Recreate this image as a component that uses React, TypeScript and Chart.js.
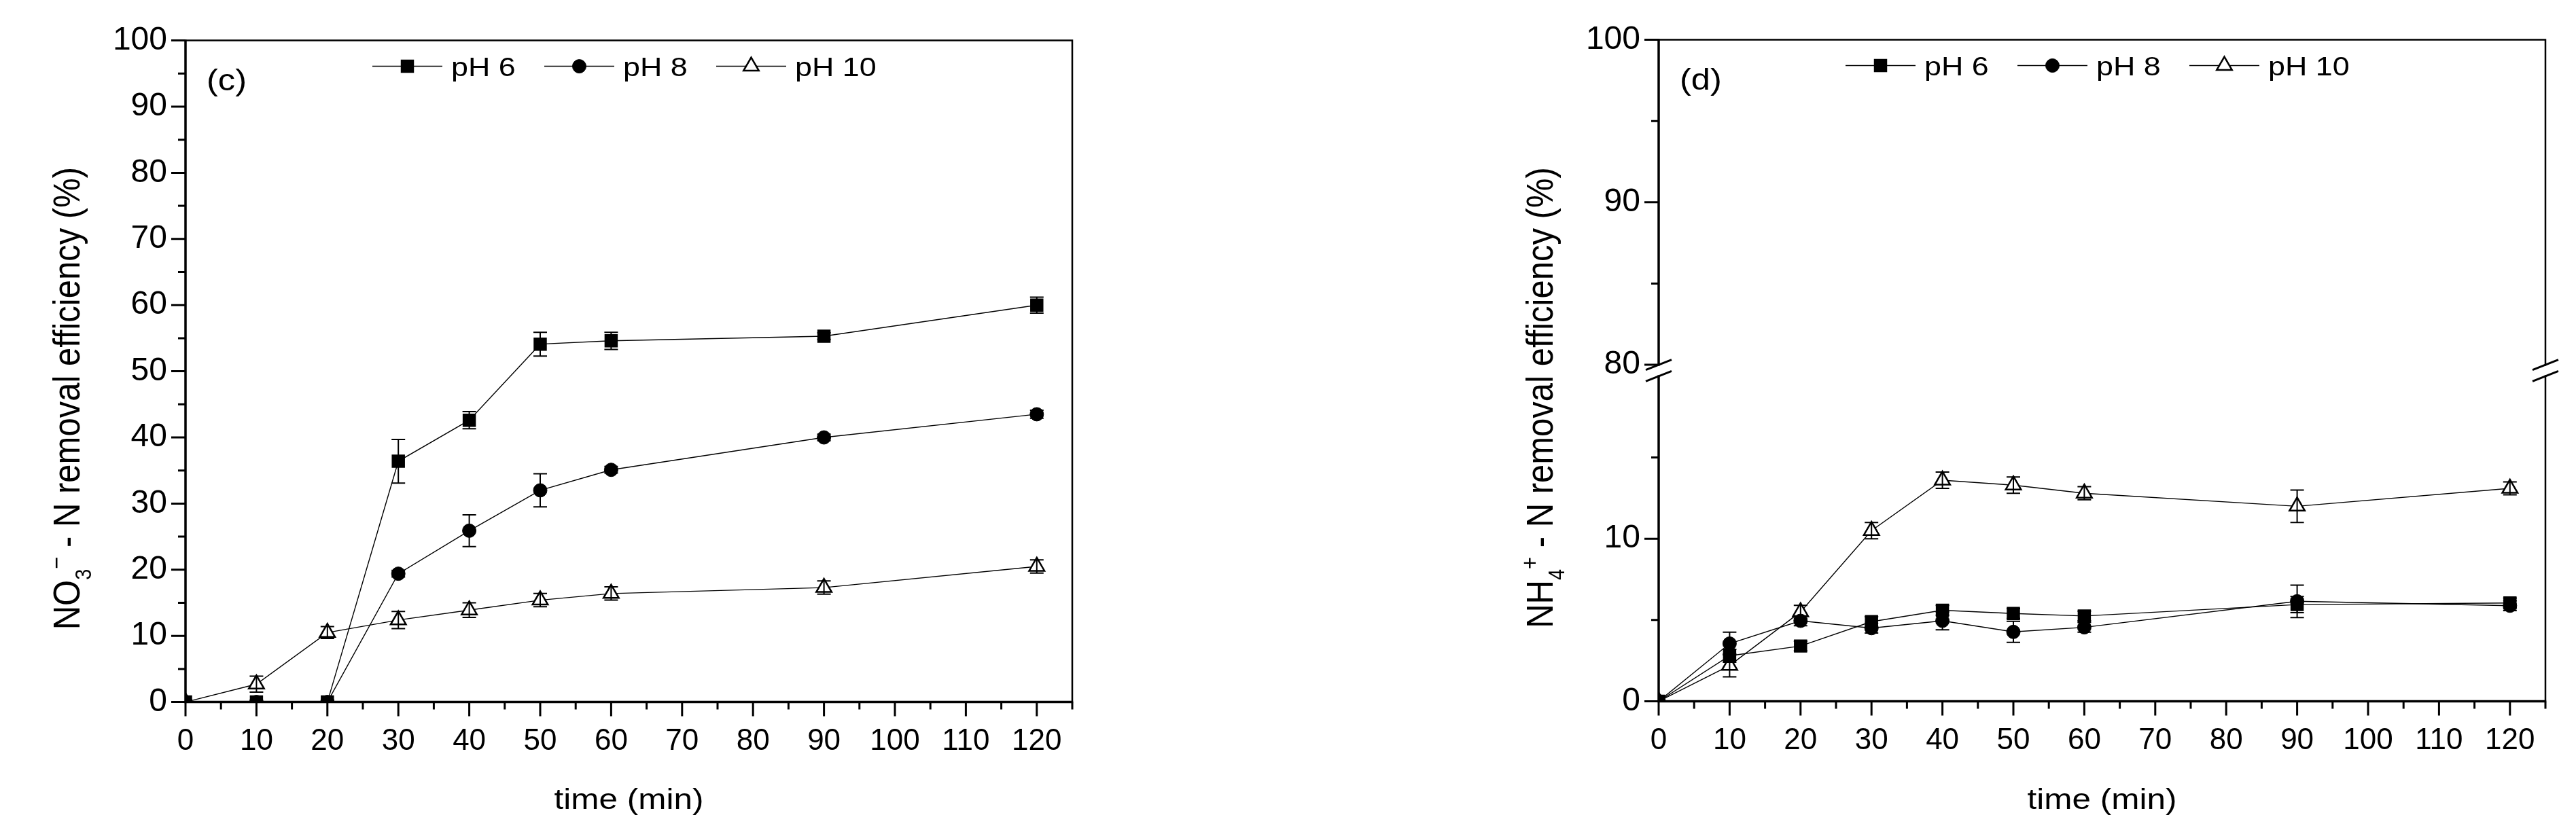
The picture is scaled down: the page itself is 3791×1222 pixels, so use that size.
import React, { useEffect, useRef } from 'react';
import { Chart, registerables } from 'chart.js';

Chart.register(...registerables);

const FONT = '"Liberation Sans", Arial, Helvetica, sans-serif';

// ---------------- data ----------------
const times = [0, 10, 20, 30, 40, 50, 60, 90, 120];
const seriesLabels = ['pH 6', 'pH 8', 'pH 10'];

// panel (c): NO3- - N removal efficiency (%)
const no3PH6 = [0, 0, 0, 36.4, 42.6, 54.1, 54.6, 55.3, 60.0];
const no3PH6Err = [0, 0, 0, 3.3, 1.3, 1.8, 1.3, 0.5, 1.2];
const no3PH8 = [0, 0, 0, 19.4, 25.9, 32.0, 35.1, 40.0, 43.5];
const no3PH8Err = [0, 0, 0, 0.5, 2.4, 2.5, 0.5, 0.5, 0.6];
const no3PH10 = [0, 2.7, 10.5, 12.4, 13.9, 15.4, 16.4, 17.3, 20.5];
const no3PH10Err = [0, 1.2, 0.9, 1.3, 1.1, 1.0, 1.0, 1.0, 1.0];

// panel (d): NH4+ - N removal efficiency (%)
const nh4PH6 = [0, 2.8, 3.4, 4.9, 5.6, 5.4, 5.25, 5.95, 6.05];
const nh4PH6Err = [0, 0.4, 0.3, 0.3, 0.3, 0.3, 0.3, 0.5, 0.3];
const nh4PH8 = [0, 3.55, 4.95, 4.5, 4.95, 4.27, 4.55, 6.15, 5.88];
const nh4PH8Err = [0, 0.7, 0.3, 0.3, 0.55, 0.65, 0.3, 1.0, 0.3];
const nh4PH10 = [0, 2.2, 5.5, 10.5, 13.6, 13.3, 12.8, 12.0, 13.1];
const nh4PH10Err = [0, 0.7, 0.4, 0.5, 0.5, 0.5, 0.4, 1.0, 0.4];

// axes
const xMax = 125;
const xMajor = [0, 10, 20, 30, 40, 50, 60, 70, 80, 90, 100, 110, 120];
const xMinor = [5, 15, 25, 35, 45, 55, 65, 75, 85, 95, 105, 115, 125];
const cYMajor = [0, 10, 20, 30, 40, 50, 60, 70, 80, 90, 100];
const cYMinor = [5, 15, 25, 35, 45, 55, 65, 75, 85, 95];
const dYMajor = [0, 10, 80, 90, 100];
const dYMinor = [5, 15, 85, 95];
const dBreakLow = 20;
const dBreakHigh = 80;
const dBreakGap = 0.7;

const xTitle = 'time (min)';

// ---------------- helpers ----------------
const identity = (v: number) => v;
const dMap = (v: number) => (v <= dBreakLow ? v : v - dBreakHigh + dBreakLow + dBreakGap);

const STRETCH = 1.15; // glyphs in the original look horizontally widened
const pointStyles = ['rect', 'circle', 'triangle'];
const pointRadii = [12.7, 10, 13];
const pointFills = ['#000', '#000', '#fff'];
const pointBorderW = [1.5, 1, 2.5];

type TitlePart = { t: string; s: number; dy: number };

type PanelCfg = {
  label: string;
  series: number[][];
  errors: number[][];
  map: (v: number) => number;
  yMax: number;
  yMajor: number[];
  yMinor: number[];
  hasBreak: boolean;
  title: TitlePart[];
  area: { left: number; right: number; top: number; bottom: number };
  width: number;
};

function drawMarker(ctx: CanvasRenderingContext2D, i: number, x: number, y: number) {
  ctx.save();
  ctx.fillStyle = pointFills[i];
  ctx.strokeStyle = '#000';
  ctx.lineWidth = pointBorderW[i];
  const r = pointRadii[i];
  ctx.beginPath();
  if (i === 0) {
    const s = r * Math.SQRT1_2;
    ctx.rect(x - s, y - s, 2 * s, 2 * s);
  } else if (i === 1) {
    ctx.arc(x, y, r, 0, Math.PI * 2);
  } else {
    const a = (2 * Math.PI) / 3;
    ctx.moveTo(x, y - r);
    ctx.lineTo(x + Math.sin(a) * r, y - Math.cos(a) * r);
    ctx.lineTo(x + Math.sin(2 * a) * r, y - Math.cos(2 * a) * r);
    ctx.closePath();
  }
  ctx.fill();
  ctx.stroke();
  ctx.restore();
}

function stretchedText(
  ctx: CanvasRenderingContext2D,
  text: string,
  x: number,
  y: number,
  size: number,
  align: 'left' | 'center'
) {
  ctx.save();
  ctx.font = `${size}px ${FONT}`;
  ctx.textBaseline = 'alphabetic';
  ctx.textAlign = 'left';
  const w = ctx.measureText(text).width * STRETCH;
  const x0 = align === 'center' ? x - w / 2 : x;
  ctx.translate(x0, y);
  ctx.scale(STRETCH, 1);
  ctx.fillText(text, 0, 0);
  ctx.restore();
}

function makeDecor(cfg: PanelCfg) {
  return {
    id: 'decor',
    afterDatasetsDraw(chart: any) {
      const ctx: CanvasRenderingContext2D = chart.ctx;
      const a = chart.chartArea;
      const xs = chart.scales.x;
      const ys = chart.scales.y;
      ctx.save();
      ctx.strokeStyle = '#000';
      ctx.fillStyle = '#000';

      // error bars
      ctx.lineWidth = 2;
      cfg.series.forEach((vals, di) => {
        vals.forEach((v, i) => {
          const e = cfg.errors[di][i];
          if (!e) return;
          const px = xs.getPixelForValue(times[i]);
          const y1 = ys.getPixelForValue(cfg.map(v + e));
          const y2 = ys.getPixelForValue(cfg.map(Math.max(0, v - e)));
          ctx.beginPath();
          ctx.moveTo(px, y1);
          ctx.lineTo(px, y2);
          ctx.moveTo(px - 10, y1);
          ctx.lineTo(px + 10, y1);
          ctx.moveTo(px - 10, y2);
          ctx.lineTo(px + 10, y2);
          ctx.stroke();
        });
      });

      // frame: left/bottom heavier than top/right
      ctx.lineWidth = 2.5;
      ctx.beginPath();
      ctx.moveTo(a.left, a.top);
      ctx.lineTo(a.right, a.top);
      ctx.lineTo(a.right, a.bottom);
      ctx.stroke();
      ctx.lineWidth = 3.5;
      ctx.beginPath();
      ctx.moveTo(a.left, a.top - 1.2);
      ctx.lineTo(a.left, a.bottom);
      ctx.lineTo(a.right + 1.2, a.bottom);
      ctx.stroke();

      // ticks
      ctx.lineWidth = 3;
      ctx.beginPath();
      xMajor.forEach((v) => {
        const p = xs.getPixelForValue(v);
        ctx.moveTo(p, a.bottom);
        ctx.lineTo(p, a.bottom + 21);
      });
      xMinor.forEach((v) => {
        const p = xs.getPixelForValue(v);
        ctx.moveTo(p, a.bottom);
        ctx.lineTo(p, a.bottom + 11);
      });
      cfg.yMajor.forEach((v) => {
        const p = ys.getPixelForValue(cfg.map(v));
        ctx.moveTo(a.left, p);
        ctx.lineTo(a.left - 21, p);
      });
      cfg.yMinor.forEach((v) => {
        const p = ys.getPixelForValue(cfg.map(v));
        ctx.moveTo(a.left, p);
        ctx.lineTo(a.left - 11, p);
      });
      ctx.stroke();

      // axis break
      if (cfg.hasBreak) {
        const yHi = ys.getPixelForValue(cfg.map(dBreakHigh));
        const yLo = ys.getPixelForValue(cfg.map(dBreakLow));
        [a.left, a.right].forEach((ax) => {
          ctx.fillStyle = '#fff';
          ctx.fillRect(ax - 3, yHi + 1.5, 6, yLo - yHi - 3);
          ctx.strokeStyle = '#000';
          ctx.lineWidth = 3;
          ctx.beginPath();
          [yHi, yLo].forEach((yy) => {
            ctx.moveTo(ax - 19, yy + 7.6);
            ctx.lineTo(ax + 19, yy - 7.6);
          });
          ctx.stroke();
        });
        ctx.fillStyle = '#000';
      }

      // legend
      seriesLabels.forEach((lab, i) => {
        const x0 = a.left + 275 + i * 253;
        const y0 = a.top + 38;
        ctx.strokeStyle = '#000';
        ctx.lineWidth = 1.5;
        ctx.beginPath();
        ctx.moveTo(x0, y0);
        ctx.lineTo(x0 + 103, y0);
        ctx.stroke();
        drawMarker(ctx, i, x0 + 51.5, y0);
        ctx.fillStyle = '#000';
        stretchedText(ctx, lab, x0 + 116, y0 + 14, 39, 'left');
      });

      // panel label
      ctx.fillStyle = '#000';
      stretchedText(ctx, cfg.label, a.left + 31, a.top + 73, 44, 'left');

      // x title
      stretchedText(ctx, xTitle, (a.left + a.right) / 2, 1191, 43, 'center');

      // y title (rotated, with sub/superscripts)
      ctx.save();
      ctx.translate(a.left - 156, (a.top + a.bottom) / 2 + 40);
      ctx.rotate(-Math.PI / 2);
      ctx.scale(1, STRETCH);
      ctx.textAlign = 'left';
      ctx.textBaseline = 'alphabetic';
      const widths = cfg.title.map((p) => {
        ctx.font = `${p.s}px ${FONT}`;
        return ctx.measureText(p.t).width;
      });
      let tx = -widths.reduce((s, w) => s + w, 0) / 2;
      cfg.title.forEach((p, i) => {
        ctx.font = `${p.s}px ${FONT}`;
        ctx.fillText(p.t, tx, p.dy);
        tx += widths[i];
      });
      ctx.restore();

      ctx.restore();
    },
  };
}

function buildChart(canvas: HTMLCanvasElement, cfg: PanelCfg) {
  const datasets = cfg.series.map((vals, i) => ({
    label: seriesLabels[i],
    data: vals.map((v, j) => ({ x: times[j], y: cfg.map(v) })),
    borderColor: '#000',
    borderWidth: 1.4,
    backgroundColor: pointFills[i],
    pointStyle: pointStyles[i],
    pointRadius: pointRadii[i],
    pointBackgroundColor: pointFills[i],
    pointBorderColor: '#000',
    pointBorderWidth: pointBorderW[i],
    fill: false,
    tension: 0,
  }));
  const majorTicks = (vals: number[]) => (scale: any) => {
    scale.ticks = vals.map((v) => ({ value: v }));
  };
  return new Chart(canvas, {
    type: 'line',
    data: { datasets },
    options: {
      responsive: false,
      animation: false,
      devicePixelRatio: 1,
      events: [],
      layout: {
        padding: {
          left: 0,
          top: cfg.area.top,
          right: cfg.width - cfg.area.right,
          bottom: 0,
        },
      },
      plugins: { legend: { display: false }, tooltip: { enabled: false } },
      scales: {
        x: {
          type: 'linear',
          min: 0,
          max: xMax,
          afterBuildTicks: majorTicks(xMajor),
          afterFit: (s: any) => {
            s.height = 1222 - cfg.area.bottom;
          },
          grid: { display: false, drawTicks: false },
          border: { display: false },
          ticks: {
            color: '#000',
            font: { family: FONT, size: 44 },
            padding: 32,
            maxRotation: 0,
            autoSkip: false,
          },
        },
        y: {
          type: 'linear',
          min: 0,
          max: cfg.yMax,
          afterBuildTicks: majorTicks(cfg.yMajor.map(cfg.map)),
          afterFit: (s: any) => {
            s.width = cfg.area.left;
          },
          grid: { display: false, drawTicks: false },
          border: { display: false },
          ticks: {
            color: '#000',
            font: { family: FONT, size: 48 },
            padding: 27,
            autoSkip: false,
            callback: (_v: any, idx: number) => String(cfg.yMajor[idx]),
          },
        },
      },
    },
    plugins: [makeDecor(cfg)],
  } as any);
}

const LEFT_W = 1896;
const RIGHT_W = 1895;

const panelC: PanelCfg = {
  label: '(c)',
  series: [no3PH6, no3PH8, no3PH10],
  errors: [no3PH6Err, no3PH8Err, no3PH10Err],
  map: identity,
  yMax: 100,
  yMajor: cYMajor,
  yMinor: cYMinor,
  hasBreak: false,
  title: [
    { t: 'NO', s: 49, dy: 0 },
    { t: '3', s: 29, dy: 15 },
    { t: '\u2212', s: 31, dy: -19 },
    { t: ' - N removal efficiency (%)', s: 49, dy: 0 },
  ],
  area: { left: 273, right: 1578, top: 59.6, bottom: 1033.6 },
  width: LEFT_W,
};

const panelD: PanelCfg = {
  label: '(d)',
  series: [nh4PH6, nh4PH8, nh4PH10],
  errors: [nh4PH6Err, nh4PH8Err, nh4PH10Err],
  map: dMap,
  yMax: dMap(100),
  yMajor: dYMajor,
  yMinor: dYMinor,
  hasBreak: true,
  title: [
    { t: 'NH', s: 49, dy: 0 },
    { t: '4', s: 29, dy: 15 },
    { t: '+', s: 31, dy: -19 },
    { t: ' - N removal efficiency (%)', s: 49, dy: 0 },
  ],
  area: { left: 2441 - LEFT_W, right: 3746 - LEFT_W, top: 58.5, bottom: 1032.5 },
  width: RIGHT_W,
};

export default function App() {
  const leftRef = useRef<HTMLCanvasElement>(null);
  const rightRef = useRef<HTMLCanvasElement>(null);
  useEffect(() => {
    const c1 = buildChart(leftRef.current!, panelC);
    const c2 = buildChart(rightRef.current!, panelD);
    return () => {
      c1.destroy();
      c2.destroy();
    };
  }, []);
  return (
    <div style={{ position: 'absolute', left: 0, top: 0, width: 3791, height: 1222, background: '#fff', overflow: 'hidden' }}>
      <canvas ref={leftRef} width={LEFT_W} height={1222} style={{ position: 'absolute', left: 0, top: 0, width: LEFT_W, height: 1222 }} />
      <canvas ref={rightRef} width={RIGHT_W} height={1222} style={{ position: 'absolute', left: LEFT_W, top: 0, width: RIGHT_W, height: 1222 }} />
    </div>
  );
}
